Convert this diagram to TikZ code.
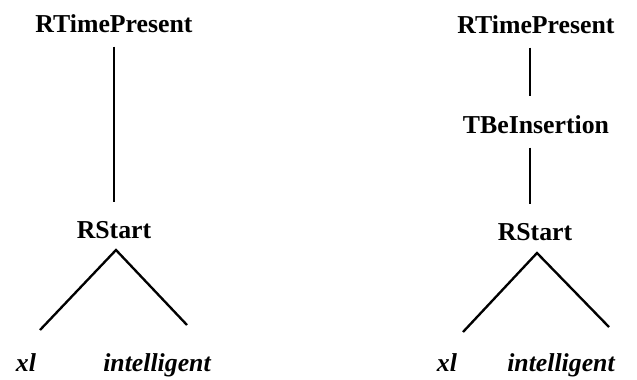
\documentclass[tikz,border=0pt]{standalone}
\usepackage{fontspec}
\setmainfont{Liberation Serif}
\usetikzlibrary{positioning}

\begin{document}
\begin{tikzpicture}[x=0.03cm, y=-0.03cm,
		lab/.style={anchor=base, inner sep=0pt, font=\fontsize{22}{26}\selectfont\bfseries},
		leaf/.style={anchor=base, inner sep=0pt, font=\fontsize{22}{26}\selectfont\bfseries\itshape},
		edge/.style={line width=2pt},
		vedge/.style={edge, shorten <=12pt, shorten >=16pt}]
		\useasboundingbox (0,0) rectangle (637,379);

		% Arbre de gauche
		\node[lab] (rtpA) at (114,32) {RTimePresent};
		\node[lab] (rsA) at (114,238) {RStart};
		\node[leaf] (xlA) at (26,371) {xl};
		\node[leaf] (intA) at (157,371) {intelligent};
		\draw[vedge] (rtpA.south) -- (rtpA.south |- rsA.north);
		\coordinate (apexA) at (116,250);
		\coordinate (lA) at (40,330);
		\coordinate (rA) at (187,325);
		\draw[edge] (lA) -- (apexA) -- (rA);

		% Arbre de droite
		\node[lab] (rtpB) at (536,33) {RTimePresent};
		\node[lab] (tbiB) at (536,133) {TBeInsertion};
		\node[lab] (rsB) at (535,240) {RStart};
		\node[leaf] (xlB) at (447,371) {xl};
		\node[leaf] (intB) at (561,371) {intelligent};
		\draw[vedge] ([xshift=-5]rtpB.south) -- ([xshift=-5]rtpB.south |- tbiB.north);
		\draw[vedge] ([xshift=-5]tbiB.south) -- ([xshift=-5]tbiB.south |- rsB.north);
		\coordinate (apexB) at (537,253);
		\coordinate (lB) at (463,332);
		\coordinate (rB) at (609,327);
		\draw[edge] (lB) -- (apexB) -- (rB);
	\end{tikzpicture}
\end{document}
